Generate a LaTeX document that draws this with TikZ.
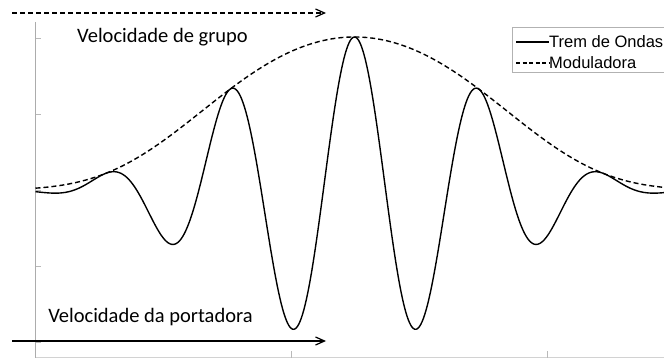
\documentclass[tikz,border=0pt]{standalone}
\usepackage{fontspec}
\setmainfont{Carlito}
\newfontfamily\legendfont{Liberation Sans}
\usetikzlibrary{arrows.meta}

\begin{document}
\begin{tikzpicture}[x=1pt,y=-1pt,
  declare function={env(\t)=153*exp(-(0.2397*((\t-354.5)/100)^2+0.0192*((\t-354.5)/100)^4));
                    phase(\t)=2.8916*(\t-354.5);},
  axis/.style={draw=gray!65,line width=0.8pt},
  tick/.style={draw=gray!55,line width=0.8pt},
  wave/.style={line width=1.4pt,line join=round},
  envelope/.style={line width=1.4pt,dash pattern=on 5pt off 3pt},
  velarrow/.style={line width=1.2pt,-{Straight Barb[length=9pt,width=8pt]}},
  velo/.style={font=\fontsize{20.5}{23}\selectfont,inner sep=0pt},
  legtext/.style={font=\legendfont\fontsize{16.5}{18}\selectfont,anchor=west,inner sep=0pt}
]
  \clip (0,0) rectangle (664,358);
  \draw[axis] (35.5,22) -- (35.5,358);
  \draw[axis,draw=gray!35] (35.5,357.5) -- (664,357.5);
  \foreach \ty in {38,114,190,266,342}
    \draw[tick] (35.5,\ty) -- ++(5.5,0);
  \foreach \tx in {291,547}
    \draw[tick] (\tx,351) -- (\tx,358);
  \draw[envelope] plot[domain=35.5:664,samples=200] (\x,{190-env(\x)});
  \draw[wave] plot[domain=35.5:664,samples=500]
    (\x,{190-env(\x)*cos(phase(\x))});
  \node[velo] (grupo) at (162.5,37) {Velocidade de grupo};
  \node[velo] (portadora) at (150.5,317) {Velocidade da portadora};
  \coordinate (grupoA) at (12,13);
  \coordinate (grupoB) at (326,13);
  \coordinate (portA) at (12,341);
  \coordinate (portB) at (326,341);
  \draw[velarrow,dash pattern=on 5pt off 3pt] (grupoA) -- (grupoB);
  \draw[velarrow] (portA) -- (portB);
  \draw[draw=gray!60,fill=white] (512,27) rectangle (700,72);
  \node[legtext] (trem) at (549,42) {Trem de Ondas};
  \node[legtext] (modul) at (549,63) {Moduladora};
  \draw[wave] (516,42) -- (trem.west);
  \draw[envelope,line width=1.2pt,dash pattern=on 4pt off 2.5pt] (516,63) -- (modul.west);
\end{tikzpicture}
\end{document}
